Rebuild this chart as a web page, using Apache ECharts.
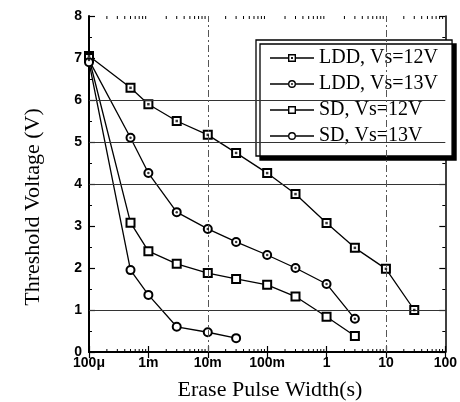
<!DOCTYPE html>
<html>
<head>
<meta charset="utf-8">
<script src="https://cdn.jsdelivr.net/npm/echarts@6/dist/echarts.min.js"></script>
<style>html,body{margin:0;padding:0;background:#fff;}#c{width:460px;height:402px;}</style>
</head>
<body>
<div id="c"></div>
<script>
// ---- data ----
const seriesNames = ['LDD, Vs=12V', 'LDD, Vs=13V', 'SD, Vs=12V', 'SD, Vs=13V'];
const xLDD12 = [1e-4, 5e-4, 1e-3, 3e-3, 1e-2, 3e-2, 0.1, 0.3, 1, 3, 10, 30];
const yLDD12 = [7.05, 6.29, 5.9, 5.5, 5.17, 4.74, 4.26, 3.76, 3.07, 2.48, 1.98, 1.0];
const xLDD13 = [1e-4, 5e-4, 1e-3, 3e-3, 1e-2, 3e-2, 0.1, 0.3, 1, 3];
const yLDD13 = [6.95, 5.1, 4.26, 3.33, 2.93, 2.62, 2.31, 2.0, 1.62, 0.79];
const xSD12 = [1e-4, 5e-4, 1e-3, 3e-3, 1e-2, 3e-2, 0.1, 0.3, 1, 3];
const ySD12 = [7.0, 3.08, 2.4, 2.1, 1.88, 1.74, 1.6, 1.32, 0.84, 0.38];
const xSD13 = [1e-4, 5e-4, 1e-3, 3e-3, 1e-2, 3e-2];
const ySD13 = [6.9, 1.95, 1.36, 0.6, 0.47, 0.33];
const xTickValues = [1e-4, 1e-3, 1e-2, 0.1, 1, 10, 100];
const xTickLabels = ['100\u03bc', '1m', '10m', '100m', '1', '10', '100'];
const yTickLabels = ['0', '1', '2', '3', '4', '5', '6', '7', '8'];
const hGridValues = [1, 4, 5, 6];
const vGridValues = [1e-3, 1e-2, 10];
const minorMultipliers = [2, 3, 4, 5, 6, 7, 8, 9];

const zip = (xs, ys) => xs.map((x, i) => [x, ys[i]]);
const minorTicks = [];
xTickValues.slice(0, -1).forEach(d => minorMultipliers.forEach(m => minorTicks.push([d * m, 0])));

const serif = '"Liberation Serif", "Times New Roman", serif';
const sans = '"Liberation Sans", Arial, sans-serif';

function xLabel(v) {
  const idx = xTickValues.findIndex(t => Math.abs(Math.log10(t) - Math.log10(v)) < 1e-6);
  return idx >= 0 ? xTickLabels[idx] : '';
}

// legend icons (line + marker), box 44 x 8
const lineL = 'M0 3.3 H18 V4.7 H0 Z ';
const lineR = 'M26 3.3 H44 V4.7 H26 Z ';
const sqRing = 'M18 0 H26 V8 H18 Z M19.4 1.4 V6.6 H24.6 V1.4 Z ';
const sqDot = 'M21.1 3.1 H22.9 V4.9 H21.1 Z ';
const ciRing = 'M18 4 A4 4 0 1 1 26 4 A4 4 0 1 1 18 4 Z M19.4 4 A2.6 2.6 0 1 0 24.6 4 A2.6 2.6 0 1 0 19.4 4 Z ';
const ciDot = 'M21.1 4 A0.9 0.9 0 1 1 22.9 4 A0.9 0.9 0 1 1 21.1 4 Z ';
const icons = [
  'path://' + lineL + lineR + sqRing + sqDot,
  'path://' + lineL + lineR + ciRing + ciDot,
  'path://' + lineL + lineR + sqRing,
  'path://' + lineL + lineR + ciRing
];

const chart = echarts.init(document.getElementById('c'), null, {renderer: 'canvas'});

function mkLine(name, data, symbol, extra) {
  return Object.assign({
    name: name, type: 'line', data: data, symbol: symbol, symbolSize: 8,
    clip: false, z: 3,
    lineStyle: {color: '#000', width: 1.3},
    itemStyle: {color: '#000', borderColor: '#000', borderWidth: 1.3},
    emphasis: {disabled: true}, animation: false
  }, extra || {});
}
function mkDots(data, symbol, size) {
  return {
    type: 'scatter', data: data, symbol: symbol, symbolSize: size, z: 5, silent: true,
    itemStyle: {color: '#000'}, clip: false, animation: false
  };
}

const axisLabelCommon = {color: '#000', fontFamily: sans, fontWeight: 'bold', fontSize: 14};

const option = {
  backgroundColor: '#fff',
  animation: false,
  textStyle: {fontFamily: sans},
  grid: {left: 89, right: 13, top: 16, bottom: 50, containLabel: false},
  xAxis: [
    {
      type: 'log', logBase: 10, min: 1e-4, max: 100, position: 'bottom',
      axisLine: {show: true, lineStyle: {color: '#000', width: 2}},
      axisTick: {show: true, inside: true, length: 6, lineStyle: {color: '#000', width: 1.2}},
      axisLabel: Object.assign({margin: 4, formatter: xLabel, showMinLabel: true, showMaxLabel: true}, axisLabelCommon),
      splitLine: {show: false}, minorTick: {show: false}
    },
    {
      type: 'log', logBase: 10, min: 1e-4, max: 100, position: 'top',
      axisLine: {show: true, lineStyle: {color: '#000', width: 1.5}},
      axisTick: {show: true, inside: true, length: 6, lineStyle: {color: '#000', width: 1.2}},
      axisLabel: {show: false}, splitLine: {show: false}
    }
  ],
  yAxis: [
    {
      type: 'value', min: 0, max: 8, interval: 1, position: 'left',
      axisLine: {show: true, lineStyle: {color: '#000', width: 2}},
      axisTick: {show: true, inside: true, length: 6, lineStyle: {color: '#000', width: 1.2}},
      minorTick: {show: true, splitNumber: 2, length: 3, lineStyle: {color: '#000', width: 1}},
      axisLabel: Object.assign({margin: 7, formatter: v => yTickLabels[Math.round(v)]}, axisLabelCommon),
      splitLine: {show: false}
    },
    {
      type: 'value', min: 0, max: 8, interval: 1, position: 'right',
      axisLine: {show: true, lineStyle: {color: '#000', width: 1.5}},
      axisTick: {show: true, inside: true, length: 6, lineStyle: {color: '#000', width: 1.2}},
      minorTick: {show: true, splitNumber: 2, length: 3, lineStyle: {color: '#000', width: 1}},
      axisLabel: {show: false}, splitLine: {show: false}
    }
  ],
  legend: {
    orient: 'vertical', left: 256, top: 40,
    padding: [8, 14, 10, 14], itemGap: 6, itemWidth: 44, itemHeight: 8,
    backgroundColor: '#fff', borderColor: '#000', borderWidth: 1.3,
    shadowColor: '#000', shadowBlur: 0, shadowOffsetX: 4, shadowOffsetY: 4,
    itemStyle: {color: '#000', borderWidth: 0},
    textStyle: {fontFamily: serif, fontSize: 20, color: '#000', lineHeight: 20},
    data: seriesNames.map((n, i) => ({name: n, icon: icons[i]})),
    selectedMode: false
  },
  graphic: [
    {type: 'text', x: 270, y: 390, silent: true,
     style: {text: 'Erase Pulse Width(s)', font: '22px ' + serif, fill: '#000', textAlign: 'center', textVerticalAlign: 'middle'}},
    {type: 'text', x: 33, y: 207, rotation: Math.PI / 2, silent: true,
     style: {text: 'Threshold Voltage (V)', font: '22px ' + serif, fill: '#000', textAlign: 'center', textVerticalAlign: 'middle'}}
  ],
  series: [
    {
      type: 'custom', silent: true, clip: false, z: 4, data: minorTicks,
      renderItem: function (params, api) {
        const v = api.value(0);
        const b = api.coord([v, 0]);
        const t = api.coord([v, 8]);
        return {type: 'group', children: [
          {type: 'line', shape: {x1: b[0], y1: b[1], x2: b[0], y2: b[1] - 3}, style: {stroke: '#000', lineWidth: 1}},
          {type: 'line', shape: {x1: t[0], y1: t[1], x2: t[0], y2: t[1] + 3}, style: {stroke: '#000', lineWidth: 1}}
        ]};
      },
      animation: false
    },
    mkLine(seriesNames[0], zip(xLDD12, yLDD12), 'emptyRect', {
      markLine: {
        silent: true, symbol: 'none', label: {show: false}, animation: false,
        data: hGridValues.map(v => ({yAxis: v, lineStyle: {color: '#333', width: 1, type: 'solid'}}))
          .concat(vGridValues.map(v => ({xAxis: v, lineStyle: {color: '#555', width: 1, type: [7, 3, 2, 3]}})))
      }
    }),
    mkLine(seriesNames[1], zip(xLDD13, yLDD13), 'emptyCircle'),
    mkLine(seriesNames[2], zip(xSD12, ySD12), 'emptyRect'),
    mkLine(seriesNames[3], zip(xSD13, ySD13), 'emptyCircle'),
    mkDots(zip(xLDD12, yLDD12), 'rect', 2.5),
    mkDots(zip(xLDD13, yLDD13), 'circle', 2.5)
  ]
};
chart.setOption(option);
</script>
</body>
</html>
